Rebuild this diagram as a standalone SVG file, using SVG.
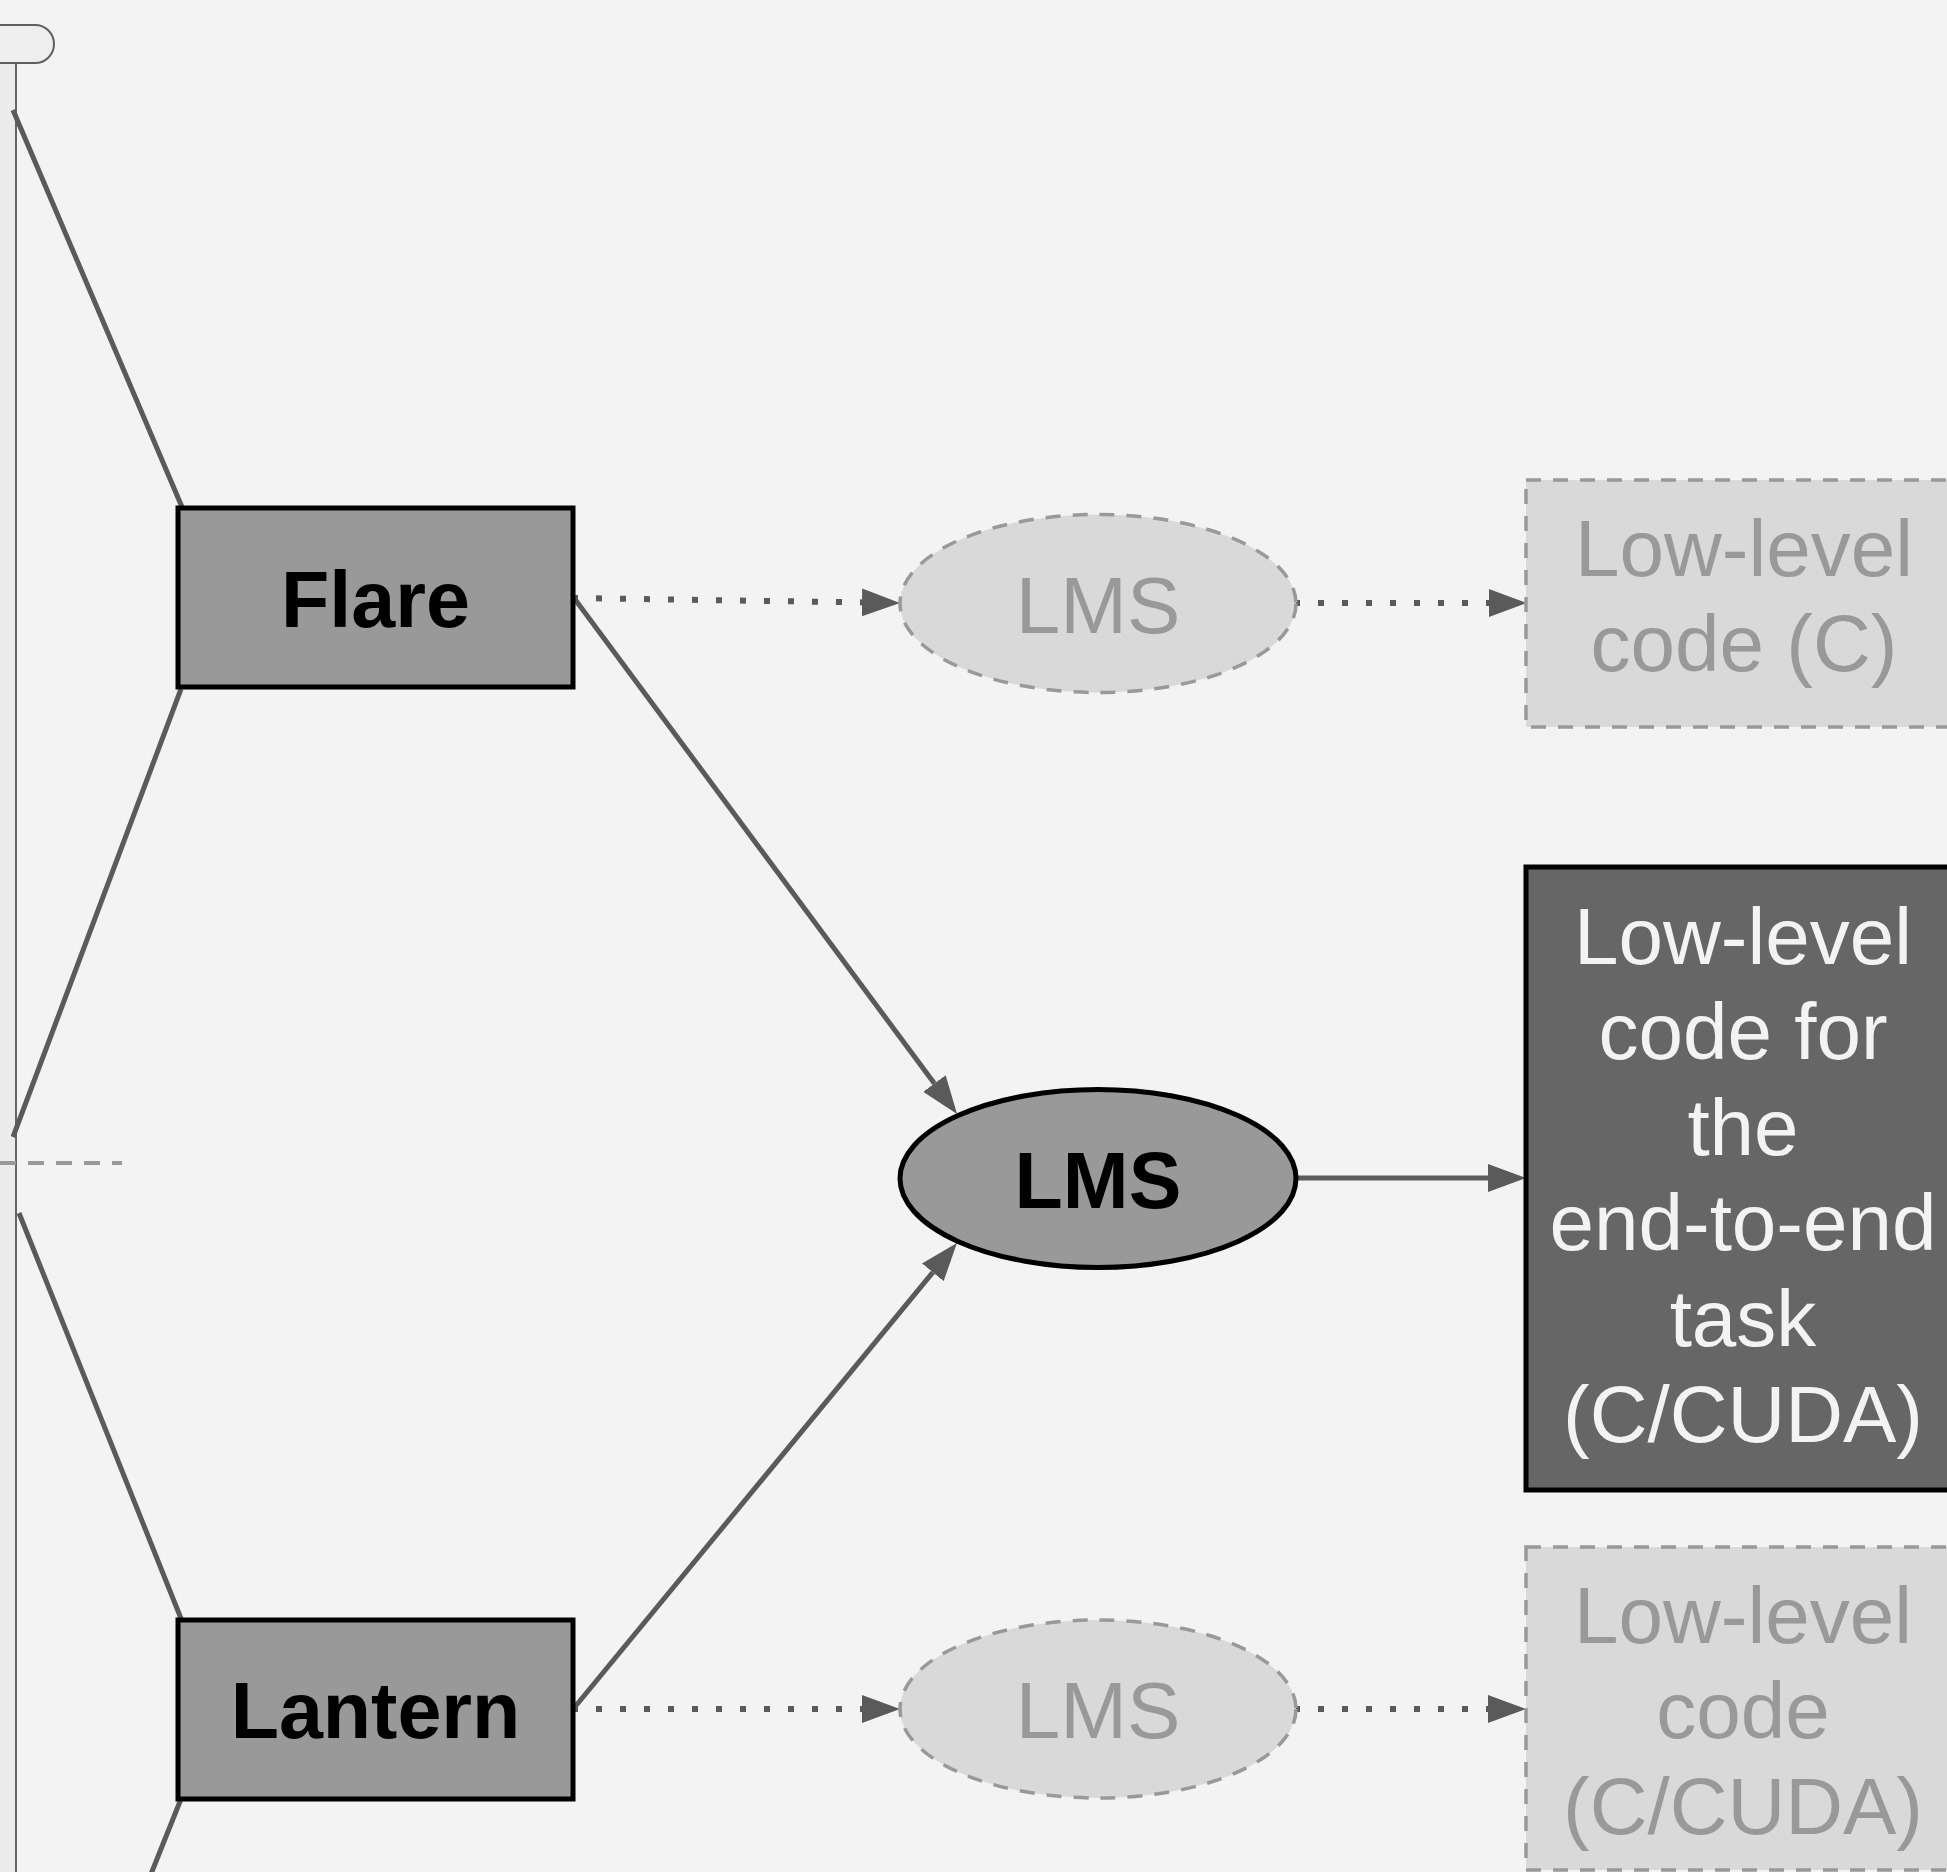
<svg xmlns="http://www.w3.org/2000/svg" width="1947" height="1872" viewBox="0 0 1947 1872">
<defs>
<style>
.bg{fill:#f3f3f3}
.conn{stroke:#5a5a5a;stroke-width:5;fill:none}
.dot{stroke:#5a5a5a;stroke-width:6;fill:none;stroke-dasharray:6 18}
.tree{stroke:#5a5a5a;stroke-width:5;fill:none}
.solidbox{fill:#999999;stroke:#000;stroke-width:5}
.darkbox{fill:#666666;stroke:#000;stroke-width:5}
.ghost{fill:#d9d9d9;stroke:#999999;stroke-width:3.5;stroke-dasharray:15 12}
.bt{font-family:"Liberation Sans",Arial,sans-serif;font-weight:bold;font-size:79px;fill:#000;text-anchor:middle}
.gt{font-family:"Liberation Sans",Arial,sans-serif;font-size:80px;fill:#999999;text-anchor:middle}
.wt{font-family:"Liberation Sans",Arial,sans-serif;font-size:80px;fill:#f3f3f3;text-anchor:middle}
</style>
<marker id="ah" markerUnits="userSpaceOnUse" markerWidth="40" markerHeight="30" viewBox="0 -15 40 30" refX="0" refY="0" orient="auto">
<path d="M0,-14 L38,0 L0,14 z" fill="#5a5a5a"/>
</marker>
</defs>
<rect class="bg" x="0" y="0" width="1947" height="1872"/>

<g id="sidebar">
<rect x="-2" y="63" width="18" height="1812" fill="#ececec"/>
<line x1="16" y1="63" x2="16" y2="1872" stroke="#666666" stroke-width="2"/>
<path d="M-5,25 H35 A19,19 0 0 1 35,63 H-5 Z" fill="#eeeeee" stroke="#5f5f5f" stroke-width="2"/>
<line x1="0" y1="1163" x2="122" y2="1163" stroke="#999999" stroke-width="4" stroke-dasharray="16 12"/>
</g>

<g id="connectors">
<line class="tree" x1="13" y1="110" x2="182" y2="507"/>
<line class="tree" x1="181" y1="689" x2="13" y2="1137"/>
<line class="tree" x1="19" y1="1213" x2="182" y2="1621"/>
<line class="tree" x1="181" y1="1799" x2="151" y2="1874"/>
<line class="conn" x1="574" y1="598" x2="934.4" y2="1083.5" marker-end="url(#ah)"/>
<line class="conn" x1="574" y1="1708" x2="932.8" y2="1272.3" marker-end="url(#ah)"/>
<line class="conn" x1="1296" y1="1178" x2="1488" y2="1178" marker-end="url(#ah)"/>
<line class="dot" x1="574" y1="598" x2="862" y2="602.4" stroke-dashoffset="2" marker-end="url(#ah)"/>
<line class="dot" x1="1296" y1="603" x2="1489" y2="603" stroke-dashoffset="2" marker-end="url(#ah)"/>
<line class="dot" x1="574" y1="1709" x2="862" y2="1709" stroke-dashoffset="2" marker-end="url(#ah)"/>
<line class="dot" x1="1296" y1="1709" x2="1488" y2="1709" stroke-dashoffset="2" marker-end="url(#ah)"/>
</g>

<g id="flare">
<rect class="solidbox" x="178" y="508" width="395" height="179"/>
<text class="bt" x="375.5" y="627">Flare</text>
</g>

<g id="lantern">
<rect class="solidbox" x="178" y="1620" width="395" height="179"/>
<text class="bt" x="375.5" y="1738">Lantern</text>
</g>

<g id="lms-top">
<ellipse class="ghost" cx="1098" cy="603.5" rx="198" ry="89"/>
<text class="gt" x="1098" y="633">LMS</text>
</g>

<g id="lms-mid">
<ellipse class="solidbox" cx="1098" cy="1178.5" rx="198" ry="89"/>
<text class="bt" x="1098" y="1208">LMS</text>
</g>

<g id="lms-bottom">
<ellipse class="ghost" cx="1098" cy="1709" rx="198" ry="89"/>
<text class="gt" x="1098" y="1738">LMS</text>
</g>

<g id="code-c">
<rect class="ghost" x="1526" y="480" width="440" height="247"/>
<text class="gt" x="1744" y="576">Low-level</text>
<text class="gt" x="1744" y="670.5">code (C)</text>
</g>

<g id="code-e2e">
<rect class="darkbox" x="1526" y="867" width="440" height="623"/>
<text class="wt" x="1743" y="963.6">Low-level</text>
<text class="wt" x="1743" y="1059.2">code for</text>
<text class="wt" x="1743" y="1154.8">the</text>
<text class="wt" x="1743" y="1250.4">end-to-end</text>
<text class="wt" x="1743" y="1346">task</text>
<text class="wt" x="1743" y="1441.6">(C/CUDA)</text>
</g>

<g id="code-cuda">
<rect class="ghost" x="1526" y="1547" width="440" height="323"/>
<text class="gt" x="1743" y="1643">Low-level</text>
<text class="gt" x="1743" y="1738">code</text>
<text class="gt" x="1743" y="1833.5">(C/CUDA)</text>
</g>
</svg>
